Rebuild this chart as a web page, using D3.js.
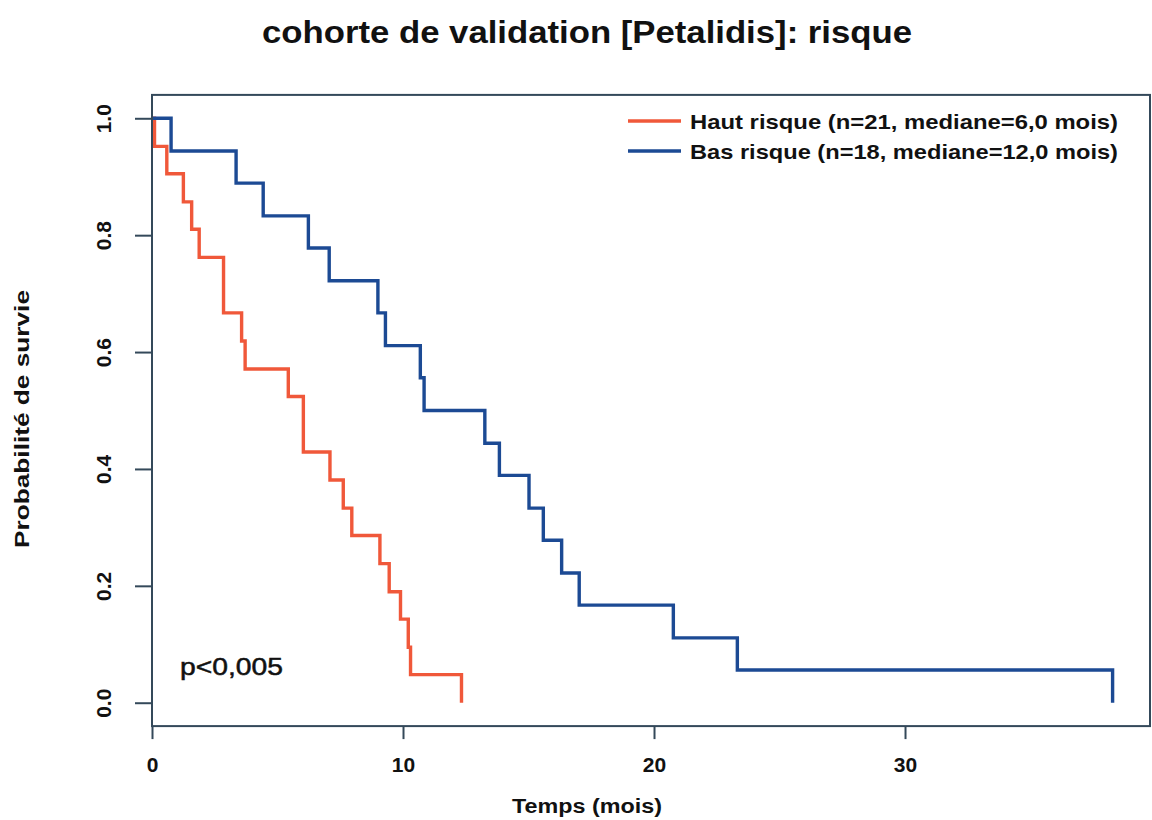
<!DOCTYPE html>
<html>
<head>
<meta charset="utf-8">
<script src="https://cdn.jsdelivr.net/npm/d3@7"></script>
<style>
  html, body { margin: 0; padding: 0; background: #ffffff; }
  svg { display: block; }
  text { font-family: "Liberation Sans", Arial, sans-serif; }
</style>
</head>
<body>
<div id="chart"></div>
<script>
// ---- data ----
const titleText = "cohorte de validation [Petalidis]: risque";
const xLabel = "Temps (mois)";
const yLabel = "Probabilité de survie";
const pText = "p<0,005";

const xTicks = [0, 10, 20, 30];
const yTicks = [0.0, 0.2, 0.4, 0.6, 0.8, 1.0];

const seriesNames = [
  "Haut risque (n=21, mediane=6,0 mois)",
  "Bas risque (n=18, mediane=12,0 mois)"
];
const seriesColors = ["#f0583a", "#1c4a94"];

// Haut risque (n=21): step times and survival after each step
const hautTimes = [0, 0.10, 0.59, 1.25, 1.58, 1.88, 2.85, 3.57, 3.71, 5.43, 6.03, 7.09, 7.62, 7.96, 9.08, 9.45, 9.90, 10.21, 10.30, 12.33];
const hautSurv  = [1.0, 0.952, 0.905, 0.857, 0.810, 0.762, 0.667, 0.619, 0.571, 0.524, 0.429, 0.381, 0.333, 0.286, 0.238, 0.190, 0.143, 0.095, 0.048, 0.0];

// Bas risque (n=18)
const basTimes = [0, 0.76, 3.35, 4.43, 6.23, 7.06, 9.00, 9.30, 10.69, 10.84, 13.26, 13.84, 15.02, 15.59, 16.32, 17.02, 20.77, 23.32, 38.27];
const basSurv  = [1.0, 0.944, 0.889, 0.833, 0.778, 0.722, 0.667, 0.611, 0.556, 0.500, 0.444, 0.389, 0.333, 0.278, 0.222, 0.167, 0.111, 0.056, 0.0];

// ---- drawing ----
const W = 1152, H = 820;
const svg = d3.select("#chart").append("svg").attr("width", W).attr("height", H);

const x = d3.scaleLinear().domain([0, 39.76]).range([152, 1150]);
const y = d3.scaleLinear().domain([-0.04, 1.04]).range([726.1, 94.9]);

const axisColor = "#34495a";

// title
svg.append("text")
  .attr("x", 587).attr("y", 43)
  .attr("text-anchor", "middle")
  .attr("font-size", 32).attr("font-weight", "bold")
  .attr("fill", "#111")
  .attr("textLength", 650).attr("lengthAdjust", "spacingAndGlyphs")
  .text(titleText);

// curves
const line = d3.line()
  .x(d => x(d[0])).y(d => y(d[1]))
  .curve(d3.curveStepAfter);

const series = [
  { name: seriesNames[0], color: seriesColors[0], pts: d3.zip(hautTimes, hautSurv) },
  { name: seriesNames[1], color: seriesColors[1], pts: d3.zip(basTimes, basSurv) }
];

svg.append("g").selectAll("path").data(series).join("path")
  .attr("d", d => line(d.pts))
  .attr("fill", "none")
  .attr("stroke", d => d.color)
  .attr("stroke-width", 3.4)
  .attr("stroke-linejoin", "miter")
  .attr("stroke-linecap", "butt");

// box
svg.append("rect")
  .attr("x", x.range()[0]).attr("y", y.range()[1])
  .attr("width", x.range()[1] - x.range()[0])
  .attr("height", y.range()[0] - y.range()[1])
  .attr("fill", "none").attr("stroke", axisColor).attr("stroke-width", 2);

// x axis
const xAxis = d3.axisBottom(x).tickValues(xTicks).tickSize(13).tickPadding(18)
  .tickFormat(d3.format("d"));
const gx = svg.append("g").attr("transform", `translate(0,${y.range()[0]})`).call(xAxis);
gx.select(".domain").remove();
gx.selectAll(".tick line").attr("stroke", axisColor).attr("stroke-width", 2);
gx.selectAll(".tick text")
  .attr("font-size", 21).attr("font-weight", "bold")
  .attr("font-family", "'Liberation Sans', Arial, sans-serif")
  .attr("fill", "#111");

// y axis
const yAxis = d3.axisLeft(y).tickValues(yTicks).tickSize(17).tickPadding(0)
  .tickFormat(d3.format(".1f"));
const gy = svg.append("g").attr("transform", `translate(${x.range()[0]},0)`).call(yAxis);
gy.select(".domain").remove();
gy.selectAll(".tick line").attr("stroke", axisColor).attr("stroke-width", 2);
gy.selectAll(".tick text")
  .attr("x", 0).attr("dy", null)
  .attr("transform", "translate(-49,0) rotate(-90)")
  .attr("text-anchor", "middle")
  .attr("dominant-baseline", "central")
  .attr("font-size", 21).attr("font-weight", "bold")
  .attr("font-family", "'Liberation Sans', Arial, sans-serif")
  .attr("fill", "#111");

// axis titles
svg.append("text")
  .attr("x", 587).attr("y", 813)
  .attr("text-anchor", "middle")
  .attr("font-size", 20).attr("font-weight", "bold").attr("fill", "#111")
  .attr("textLength", 150).attr("lengthAdjust", "spacingAndGlyphs")
  .text(xLabel);

svg.append("text")
  .attr("transform", "translate(29,419) rotate(-90)")
  .attr("text-anchor", "middle")
  .attr("font-size", 21).attr("font-weight", "bold").attr("fill", "#111")
  .attr("textLength", 258).attr("lengthAdjust", "spacingAndGlyphs")
  .text(yLabel);

// p-value
svg.append("text")
  .attr("x", 180).attr("y", 675)
  .attr("font-size", 24).attr("fill", "#111")
  .attr("stroke", "#111").attr("stroke-width", 0.5)
  .attr("textLength", 103).attr("lengthAdjust", "spacingAndGlyphs")
  .text(pText);

// legend
const lg = svg.append("g");
series.forEach((s, i) => {
  const ly = 121 + i * 30;
  lg.append("line")
    .attr("x1", 628).attr("x2", 681).attr("y1", ly).attr("y2", ly)
    .attr("stroke", s.color).attr("stroke-width", 3.4);
  lg.append("text")
    .attr("x", 690).attr("y", ly + 8)
    .attr("font-size", 21).attr("font-weight", "bold").attr("fill", "#111")
    .attr("textLength", 428).attr("lengthAdjust", "spacingAndGlyphs")
    .text(s.name);
});
</script>
</body>
</html>
